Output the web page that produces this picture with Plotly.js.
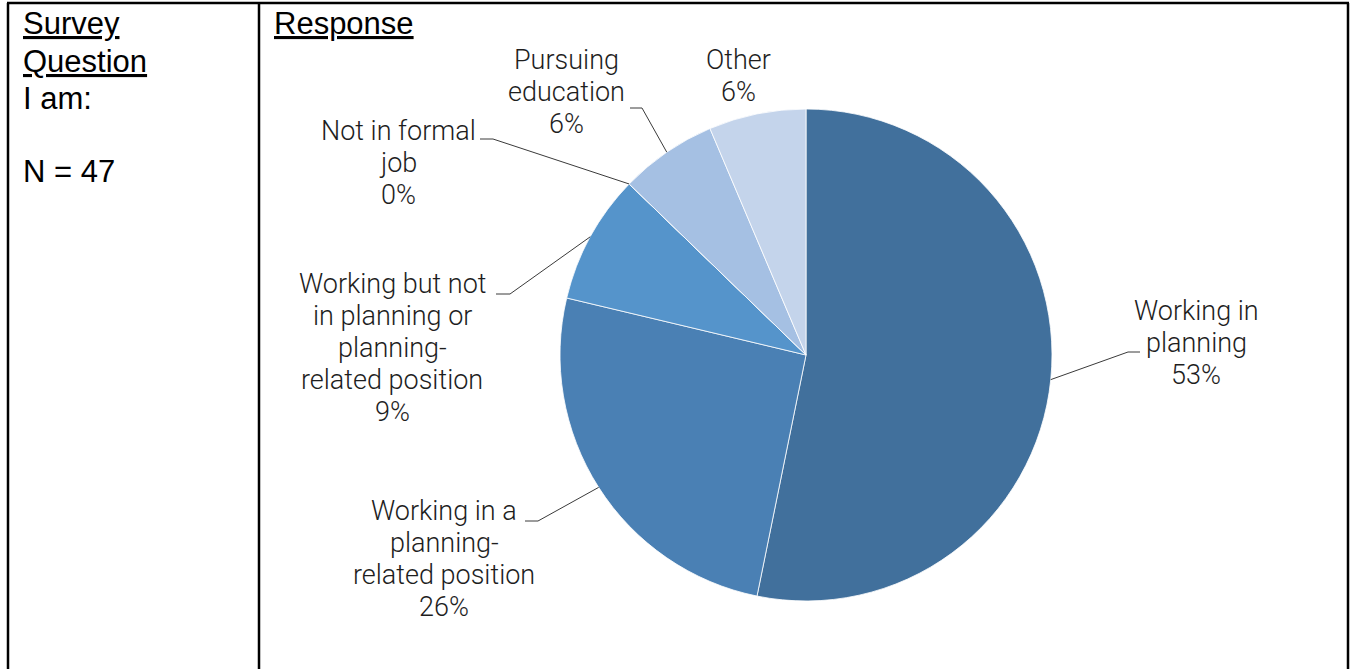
<!DOCTYPE html>
<html>
<head>
<meta charset="utf-8">
<script src="https://cdn.plot.ly/plotly-3.0.1.min.js"></script>
<style>
  html, body { margin: 0; padding: 0; background: #fff; }
  #chart { width: 1354px; height: 669px; }
</style>
</head>
<body>
<div id="chart"></div>
<script>
// ---------------- DATA ----------------
const categories = [
  "Working in planning",
  "Working in a planning-related position",
  "Working but not in planning or planning-related position",
  "Not in formal job",
  "Pursuing education",
  "Other"
];
const labelLines = [
  ["Working in", "planning"],
  ["Working in a", "planning-", "related position"],
  ["Working but not", "in planning or", "planning-", "related position"],
  ["Not in formal", "job"],
  ["Pursuing", "education"],
  ["Other"]
];
const counts = [25, 12, 4, 0, 3, 3];
const sliceColors = ["#41709c", "#4a80b4", "#5594cb", "#a5c0e3", "#a5c0e3", "#c4d4eb"];
const questionLines = ["Survey", "Question", "I am:", "", "N = 47"];
const responseHeading = "Response";

// ---------------- LAYOUT HELPERS ----------------
const W = 1354, H = 669;
const px = x => x / W;
const py = y => 1 - y / H;

// pie geometry (pixels)
const cx = 806, cy = 355, R = 246;

// label placement (pixels): centre x, first-line centre y, leader corner points
const labelPlace = [
  {x: 1196, y: 311, leader: [[1128, 352], [1140, 352]]},
  {x: 444,  y: 511, leader: [[538, 521], [525, 521]]},
  {x: 392,  y: 284, leader: [[510, 294], [496, 294]]},
  {x: 398,  y: 131, leader: [[493, 139], [480, 139]]},
  {x: 566,  y: 60,  leader: [[642, 108], [630, 108]]},
  {x: 738,  y: 60,  leader: null}
];
const LINE_GAP = 32;

const total = counts.reduce((a, b) => a + b, 0);
const pct = counts.map(v => Math.round(v / total * 100));

const LABEL_FONT = {family: "Roboto, 'Open Sans', sans-serif", size: 27, color: "#1e1e1e", weight: 300};
const annotations = [];
const shapes = [];

// pie labels + leader lines (edge point computed from data)
let cum = 0;
counts.forEach((v, i) => {
  const midFrac = (cum + v / 2) / total;
  cum += v;
  const ang = midFrac * 2 * Math.PI; // clockwise from 12 o'clock
  const ex = cx + R * Math.sin(ang);
  const ey = cy - R * Math.cos(ang);
  const p = labelPlace[i];
  const lines = labelLines[i].concat([pct[i] + "%"]);
  lines.forEach((t, k) => {
    annotations.push({
      xref: "paper", yref: "paper", x: px(p.x), y: py(p.y + k * LINE_GAP),
      xanchor: "center", yanchor: "middle", showarrow: false,
      text: t, font: LABEL_FONT
    });
  });
  if (p.leader) {
    let d = "M " + px(ex) + " " + py(ey);
    p.leader.forEach(pt => { d += " L " + px(pt[0]) + " " + py(pt[1]); });
    shapes.push({type: "path", xref: "paper", yref: "paper", path: d,
      line: {color: "#3a3a3a", width: 1}});
  }
});

// left-cell text
const LEFT_FONT = {family: "'Liberation Sans', Arial, sans-serif", size: 31, color: "#000"};
const lineY = [24, 61, 98, 135, 171];
questionLines.forEach((t, i) => {
  if (!t) return;
  annotations.push({
    xref: "paper", yref: "paper", x: px(21), y: py(lineY[i]),
    xanchor: "left", yanchor: "middle", showarrow: false,
    text: i < 2 ? "<u>" + t + "</u>" : t, font: LEFT_FONT
  });
});
annotations.push({
  xref: "paper", yref: "paper", x: px(272), y: py(lineY[0]),
  xanchor: "left", yanchor: "middle", showarrow: false,
  text: "<u>" + responseHeading + "</u>", font: LEFT_FONT
});

// table borders
const border = {color: "#000", width: 2.5};
function seg(x0, y0, x1, y1) {
  shapes.push({type: "line", xref: "paper", yref: "paper",
    x0: px(x0), y0: py(y0), x1: px(x1), y1: py(y1), line: border});
}
seg(7, 3, 1349, 3);
seg(8, 3, 8, 669);
seg(259, 3, 259, 669);
seg(1348, 3, 1348, 669);

const data = [{
  type: "pie",
  labels: categories,
  values: counts,
  sort: false,
  direction: "clockwise",
  rotation: 0,
  textinfo: "none",
  hoverinfo: "label+percent",
  marker: {colors: sliceColors, line: {color: "#ffffff", width: 0.8}},
  domain: {x: [px(cx - R), px(cx + R)], y: [py(cy + R), py(cy - R)]},
  showlegend: false
}];

const layout = {
  width: W, height: H,
  margin: {l: 0, r: 0, t: 0, b: 0},
  paper_bgcolor: "#ffffff",
  plot_bgcolor: "#ffffff",
  showlegend: false,
  annotations: annotations,
  shapes: shapes
};

Plotly.newPlot("chart", data, layout, {displayModeBar: false, staticPlot: true});
</script>
</body>
</html>
